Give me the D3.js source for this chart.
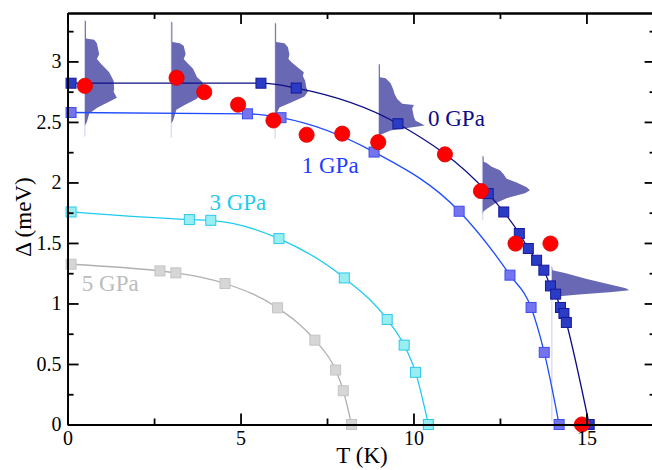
<!DOCTYPE html>
<html>
<head>
<meta charset="utf-8">
<script src="https://cdn.jsdelivr.net/npm/d3@7"></script>
<style>
  body { margin: 0; background: #fff; }
  svg { font-family: "Liberation Serif", "Times New Roman", serif; }
  .axis path, .axis line { stroke: #000; stroke-width: 1.8; }
  .axis text { font-size: 20px; fill: #000; font-family: "Liberation Serif", serif; }
</style>
</head>
<body>
<div id="chart"></div>
<script>
/* DATA */
// gap vs temperature
const gpa0T   = [0.1, 5.59, 6.61, 9.55, 12.16, 12.61, 13.06, 13.32, 13.56, 13.77, 13.96, 14.11, 14.25, 14.35, 14.42, 15.08];
const gpa0Gap = [2.82, 2.82, 2.78, 2.485, 1.908, 1.756, 1.578, 1.454, 1.357, 1.275, 1.145, 1.077, 0.967, 0.917, 0.843, 0];

const gpa1T   = [0.1, 5.2, 6.17, 8.86, 11.32, 12.79, 13.40, 13.78, 14.21];
const gpa1Gap = [2.578, 2.567, 2.535, 2.251, 1.762, 1.234, 0.967, 0.596, 0];

const gpa3T   = [0.1, 3.52, 4.14, 6.11, 8.0, 9.24, 9.73, 10.06, 10.43];
const gpa3Gap = [1.756, 1.693, 1.687, 1.536, 1.211, 0.868, 0.656, 0.431, 0];

const gpa5T   = [0.1, 2.67, 3.13, 4.55, 6.07, 7.15, 7.75, 7.97, 8.21];
const gpa5Gap = [1.324, 1.269, 1.253, 1.165, 0.964, 0.697, 0.45, 0.279, 0];

// red circles
const calcT   = [0.5, 3.15, 3.95, 4.93, 5.95, 6.91, 7.94, 8.98, 10.91, 11.95, 12.95, 13.96, 14.87];
const calcGap = [2.798, 2.865, 2.746, 2.642, 2.512, 2.394, 2.403, 2.333, 2.232, 1.929, 1.495, 1.495, 0];

// gap distributions: temperature, [gap, density] profile, lower end of faint baseline
const distT = [0.5, 3, 6, 9, 12, 14];
const distProfiles = [
  [[3.34,0],[3.33,0.1],[3.19,0.1],[3.18,0.93],[3.15,1.2],[3.06,1.43],[3.02,1.2],[2.98,1.6],[2.91,2.43],[2.84,2.87],[2.77,2.93],[2.75,2.87],[2.70,3.2],[2.66,2.27],[2.62,1.27],[2.57,0.43],[2.50,0.2],[2.47,0]],
  [[3.33,0],[3.32,0.1],[3.16,0.1],[3.15,0.83],[3.13,1.23],[3.06,1.43],[3.02,1.23],[2.98,1.67],[2.94,2.17],[2.87,2.57],[2.83,3.1],[2.76,3.33],[2.69,2.5],[2.64,1.33],[2.60,0.5],[2.51,0.17],[2.49,0]],
  [[3.32,0],[3.31,0.1],[3.16,0.1],[3.15,0.93],[3.12,1.27],[3.06,1.43],[3.02,1.33],[2.99,1.67],[2.95,2.27],[2.91,2.87],[2.88,2.77],[2.84,3.0],[2.79,3.1],[2.75,3.27],[2.71,2.93],[2.66,1.6],[2.62,0.43],[2.58,0.2],[2.55,0]],
  [[2.98,0],[2.97,0.1],[2.87,0.1],[2.86,0.67],[2.82,1.17],[2.77,1.43],[2.73,1.57],[2.69,1.83],[2.65,2.33],[2.64,3.5],[2.61,3.33],[2.57,3.43],[2.54,3.5],[2.51,3.67],[2.49,4.17],[2.47,4.57],[2.45,2.83],[2.43,1.17],[2.40,0.33],[2.39,0]],
  [[2.22,0],[2.21,0.1],[2.17,0.1],[2.16,0.4],[2.13,0.9],[2.10,1.73],[2.07,2.07],[2.03,2.4],[2.00,3.4],[1.96,4.4],[1.935,4.73],[1.91,4.23],[1.87,2.4],[1.825,1.23],[1.78,0.4],[1.76,0.07],[1.74,0]],
  [[1.31,0],[1.275,0.07],[1.25,1.4],[1.205,3.4],[1.165,5.4],[1.125,7.4],[1.11,7.73],[1.095,6.07],[1.075,2.73],[1.06,0.73],[1.045,0.13],[1.04,0]]
];
const distLow = [2.38, 2.37, 2.36, 2.22, 1.69, 0.03];

const seriesNames  = ["0 GPa", "1 GPa", "3 GPa", "5 GPa"];
const seriesLabelT = [10.42, 6.77, 4.10, 0.41];
const seriesLabelG = [2.463, 2.075, 1.774, 1.106];

const xMajor = [0, 5, 10, 15], xMinor = [2.5, 7.5, 12.5];
const yMajor = [0, 0.5, 1, 1.5, 2, 2.5, 3], yMinor = [0.25, 0.75, 1.25, 1.75, 2.25, 2.75, 3.25];

/* STYLE */
const styles = [
  { line: "#0c0c86", fill: "#2a3cc6", stroke: "#16189a", text: "#0c0c86" },
  { line: "#1f4cff", fill: "#7474ee", stroke: "#3f4cf0", text: "#1f3cff" },
  { line: "#1ecbf0", fill: "#98eef0", stroke: "#2ec8ea", text: "#1ecbf0" },
  { line: "#b0b0b0", fill: "#d6d6d6", stroke: "#c4c4c4", text: "#bcbcbc" }
];

const W = 652, H = 470;
const margin = { top: 13, left: 67.6 };
const plotRight = 655.6, plotBottom = 424.5;

const svg = d3.select("#chart").append("svg")
  .attr("width", W).attr("height", H);

const x = d3.scaleLinear().domain([0, 17]).range([margin.left, plotRight]);
const y = d3.scaleLinear().domain([0, 3.4]).range([plotBottom, margin.top]);
const w = d3.scaleLinear().domain([0, 1]).range([0, 10]);

/* distributions */
const distG = svg.append("g");
distT.forEach((t, i) => {
  const prof = distProfiles[i];
  const top = d3.max(prof, d => d[0]);
  distG.append("line")
    .attr("x1", x(t)).attr("x2", x(t))
    .attr("y1", y(top)).attr("y2", y(distLow[i]))
    .attr("stroke", "#dedef0").attr("stroke-width", 1.5);
  const area = d3.area()
    .y(d => y(d[0]))
    .x0(x(t))
    .x1(d => x(t) + w(d[1]));
  distG.append("path")
    .datum(prof)
    .attr("d", area)
    .attr("fill", "#6868b4");
});

/* lines and squares */
const allT = [gpa0T, gpa1T, gpa3T, gpa5T];
const allGap = [gpa0Gap, gpa1Gap, gpa3Gap, gpa5Gap];
const line = d3.line().x(d => x(d[0])).y(d => y(d[1])).curve(d3.curveMonotoneX);

[3, 2, 1, 0].forEach(s => {
  const pts = allT[s].map((t, i) => [t, allGap[s][i]]);
  svg.append("path")
    .datum(pts)
    .attr("d", line)
    .attr("fill", "none")
    .attr("stroke", styles[s].line)
    .attr("stroke-width", 1.3);
  svg.append("g").selectAll("rect")
    .data(pts)
    .join("rect")
    .attr("x", d => x(d[0]) - 5)
    .attr("y", d => y(d[1]) - 5)
    .attr("width", 10).attr("height", 10)
    .attr("fill", styles[s].fill)
    .attr("stroke", styles[s].stroke)
    .attr("stroke-width", 1);
});

/* red circles */
svg.append("g").selectAll("circle")
  .data(calcT.map((t, i) => [t, calcGap[i]]))
  .join("circle")
  .attr("cx", d => x(d[0]))
  .attr("cy", d => y(d[1]))
  .attr("r", 7.6)
  .attr("fill", "#ff0000")
  .attr("stroke", "#e00000")
  .attr("stroke-width", 0.8);

/* axes */
const xAxisB = svg.append("g").attr("class", "axis")
  .attr("transform", `translate(0,${plotBottom})`)
  .call(d3.axisBottom(x).tickValues(xMajor).tickSize(-11).tickSizeOuter(0).tickPadding(6));
svg.append("g").attr("class", "axis")
  .attr("transform", `translate(0,${plotBottom})`)
  .call(d3.axisBottom(x).tickValues(xMinor).tickSize(-6).tickSizeOuter(0).tickFormat(""));
svg.append("g").attr("class", "axis")
  .attr("transform", `translate(0,${margin.top})`)
  .call(d3.axisTop(x).tickValues(xMajor).tickSize(-11).tickSizeOuter(0).tickFormat(""));
svg.append("g").attr("class", "axis")
  .attr("transform", `translate(0,${margin.top})`)
  .call(d3.axisTop(x).tickValues(xMinor).tickSize(-6).tickSizeOuter(0).tickFormat(""));

svg.append("g").attr("class", "axis")
  .attr("transform", `translate(${margin.left},0)`)
  .call(d3.axisLeft(y).tickValues(yMajor).tickSize(-11).tickSizeOuter(0).tickPadding(6).tickFormat(d3.format("")));
svg.append("g").attr("class", "axis")
  .attr("transform", `translate(${margin.left},0)`)
  .call(d3.axisLeft(y).tickValues(yMinor).tickSize(-6).tickSizeOuter(0).tickFormat(""));
svg.append("g").attr("class", "axis")
  .attr("transform", `translate(${plotRight},0)`)
  .call(d3.axisRight(y).tickValues(yMajor).tickSize(-11).tickSizeOuter(0).tickFormat(""));
svg.append("g").attr("class", "axis")
  .attr("transform", `translate(${plotRight},0)`)
  .call(d3.axisRight(y).tickValues(yMinor).tickSize(-6).tickSizeOuter(0).tickFormat(""));

/* axis titles */
svg.append("text")
  .attr("x", 362).attr("y", 463)
  .attr("text-anchor", "middle")
  .attr("font-size", 23)
  .text("T (K)");
svg.append("text")
  .attr("transform", "translate(31,217) rotate(-90)")
  .attr("text-anchor", "middle")
  .attr("font-size", 23)
  .text("Δ (meV)");

/* series labels */
seriesNames.forEach((name, s) => {
  svg.append("text")
    .attr("x", x(seriesLabelT[s]))
    .attr("y", y(seriesLabelG[s]))
    .attr("font-size", 23)
    .attr("fill", styles[s].text)
    .text(name);
});
</script>
</body>
</html>
